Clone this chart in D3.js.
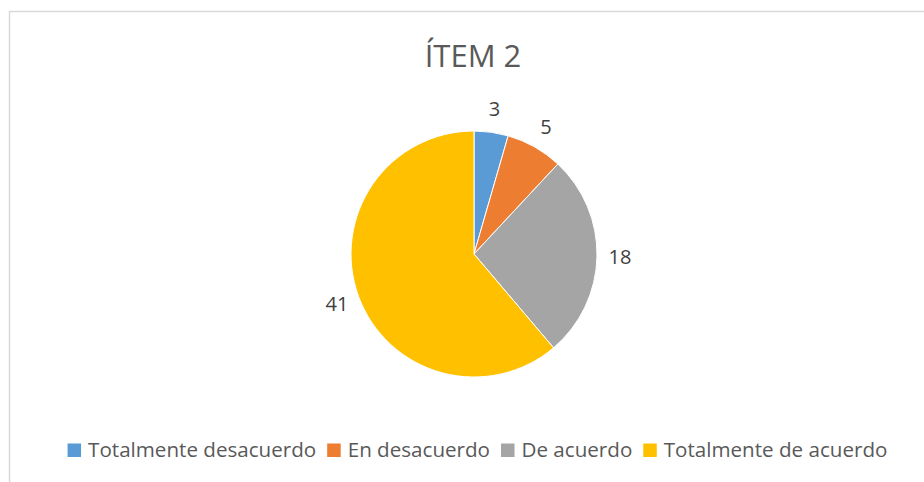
<!DOCTYPE html>
<html>
<head>
<meta charset="utf-8">
<script src="https://cdn.jsdelivr.net/npm/d3@7"></script>
<style>
  body { margin: 0; background: #fff; }
  text { font-family: "Open Sans", "Noto Sans", sans-serif; }
</style>
</head>
<body>
<div id="chart"></div>
<script>
// chart values
var categories = ["Totalmente desacuerdo", "En desacuerdo", "De acuerdo", "Totalmente de acuerdo"];
var values = [3, 5, 18, 41];
var colors = ["#5B9BD5", "#ED7D31", "#A5A5A5", "#FFC000"];
var title = "ÍTEM 2";

var width = 924;
var height = 482;

var svg = d3.select("#chart")
  .append("svg")
  .attr("width", width)
  .attr("height", height);

svg.append("rect")
  .attr("width", width)
  .attr("height", height)
  .attr("fill", "#fff");

// chart area border (runs off right and bottom edges)
svg.append("rect")
  .attr("x", 9.5)
  .attr("y", 11.5)
  .attr("width", width + 20)
  .attr("height", height + 20)
  .attr("fill", "none")
  .attr("stroke", "#d9d9d9")
  .attr("stroke-width", 1.5);

// title
svg.append("text")
  .attr("x", 473)
  .attr("y", 67)
  .attr("text-anchor", "middle")
  .attr("fill", "#595959")
  .style("font-size", "31px")
  .text(title);

// pie
var cx = 474, cy = 254, r = 123;
var g = svg.append("g").attr("transform", "translate(" + cx + "," + cy + ")");

var pie = d3.pie().sort(null);
var arcs = pie(values);

var arc = d3.arc().innerRadius(0).outerRadius(r);
var labelArc = d3.arc().innerRadius(r + 23).outerRadius(r + 23);

g.selectAll("path")
  .data(arcs)
  .enter()
  .append("path")
  .attr("d", arc)
  .attr("fill", function(d, i) { return colors[i]; })
  .attr("stroke", "#fff")
  .attr("stroke-width", 1);

g.selectAll("text.lbl")
  .data(arcs)
  .enter()
  .append("text")
  .attr("class", "lbl")
  .attr("transform", function(d) { return "translate(" + labelArc.centroid(d) + ")"; })
  .attr("text-anchor", "middle")
  .attr("dy", "0.35em")
  .attr("fill", "#404040")
  .style("font-size", "20px")
  .text(function(d) { return d.data; });

// legend
var legend = svg.append("g");
var sw = 13.5, gap = 7, itemGap = 11;
var x = 0;
categories.forEach(function(c, i) {
  var item = legend.append("g").attr("transform", "translate(" + x + ",0)");
  item.append("rect")
    .attr("x", 0)
    .attr("y", -sw)
    .attr("width", sw)
    .attr("height", sw)
    .attr("fill", colors[i]);
  var t = item.append("text")
    .attr("x", sw + gap)
    .attr("y", 0)
    .attr("fill", "#595959")
    .style("font-size", "20.6px")
    .text(c);
  x += sw + gap + t.node().getComputedTextLength() + itemGap;
});
var total = x - itemGap;
legend.attr("transform", "translate(" + (477.5 - total / 2) + ",457)");
</script>
</body>
</html>
